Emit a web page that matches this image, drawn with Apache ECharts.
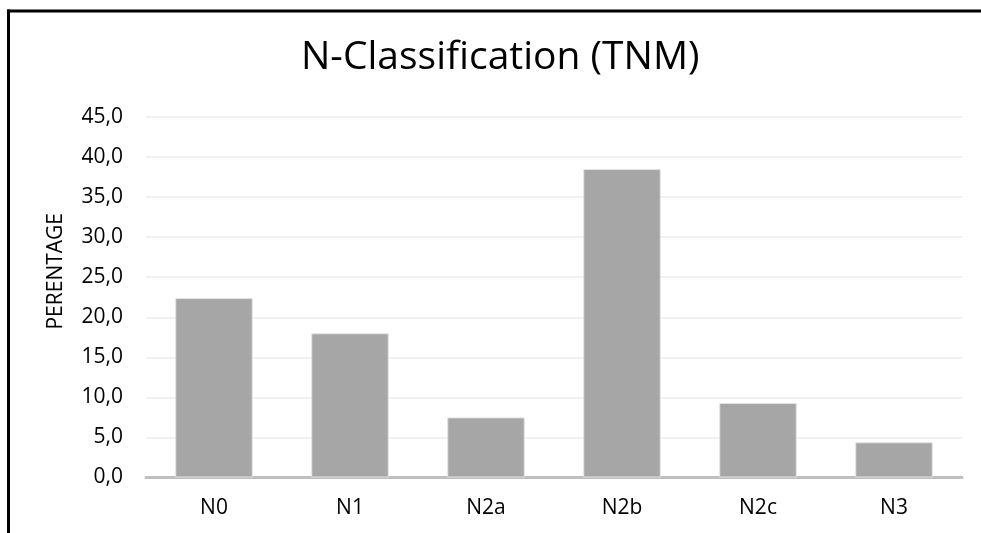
<!DOCTYPE html>
<html>
<head>
<meta charset="utf-8">
<script src="https://cdn.jsdelivr.net/npm/echarts@6/dist/echarts.min.js"></script>
<style>
html,body{margin:0;padding:0;background:#fff;}
#chart{width:981px;height:533px;}
</style>
</head>
<body>
<div id="chart"></div>
<script>
const titleText = 'N-Classification (TNM)';
const yAxisName = 'PERENTAGE';
const categories = ['N0', 'N1', 'N2a', 'N2b', 'N2c', 'N3'];
const percentages = [22.4, 18.0, 7.5, 38.5, 9.3, 4.4];
const yTicks = [0, 5, 10, 15, 20, 25, 30, 35, 40, 45];

const FONT = 'Open Sans';
const TITLE_SIZE = 39;
const ctx = document.createElement('canvas').getContext('2d');
ctx.font = TITLE_SIZE + 'px "' + FONT + '"';
const titleW = ctx.measureText(titleText).width;

const chart = echarts.init(document.getElementById('chart'), null, {renderer: 'canvas'});
chart.setOption({
  animation: false,
  backgroundColor: '#fff',
  title: {
    text: titleText,
    left: Math.round(500 - titleW / 2 - 5),
    top: 33,
    padding: 5,
    textStyle: {fontFamily: FONT, fontSize: TITLE_SIZE, fontWeight: 'normal', color: '#000'}
  },
  grid: {left: 146, right: 19, top: 117, bottom: 55.5, containLabel: false},
  xAxis: {
    type: 'category',
    data: categories,
    axisTick: {show: false},
    axisLine: {show: true, lineStyle: {color: '#bfbfbf', width: 3}},
    axisLabel: {fontFamily: FONT, fontSize: 21, color: '#000', margin: 20}
  },
  yAxis: {
    type: 'value',
    min: yTicks[0],
    max: yTicks[yTicks.length - 1],
    interval: yTicks[1] - yTicks[0],
    name: yAxisName,
    nameLocation: 'middle',
    nameGap: 79,
    nameRotate: 90,
    nameTextStyle: {fontFamily: FONT, fontSize: 21, color: '#000', padding: [0, 0, 0, 52]},
    axisLine: {show: false},
    axisTick: {show: false},
    splitLine: {lineStyle: {color: '#ececec', width: 1.5}},
    axisLabel: {
      fontFamily: FONT, fontSize: 21, color: '#000', margin: 23,
      formatter: v => v.toFixed(1).replace('.', ',')
    }
  },
  series: [{
    type: 'bar',
    data: percentages,
    barCategoryGap: '43%',
    itemStyle: {color: '#a6a6a6', borderColor: '#e2e2e2', borderWidth: 1}
  }],
  graphic: [
    {type: 'line', shape: {x1: 8.5, y1: 9.5, x2: 8.5, y2: 533}, style: {stroke: '#000', lineWidth: 3}},
    {type: 'line', shape: {x1: 7, y1: 11, x2: 981, y2: 11}, style: {stroke: '#000', lineWidth: 3}}
  ]
});
</script>
</body>
</html>
